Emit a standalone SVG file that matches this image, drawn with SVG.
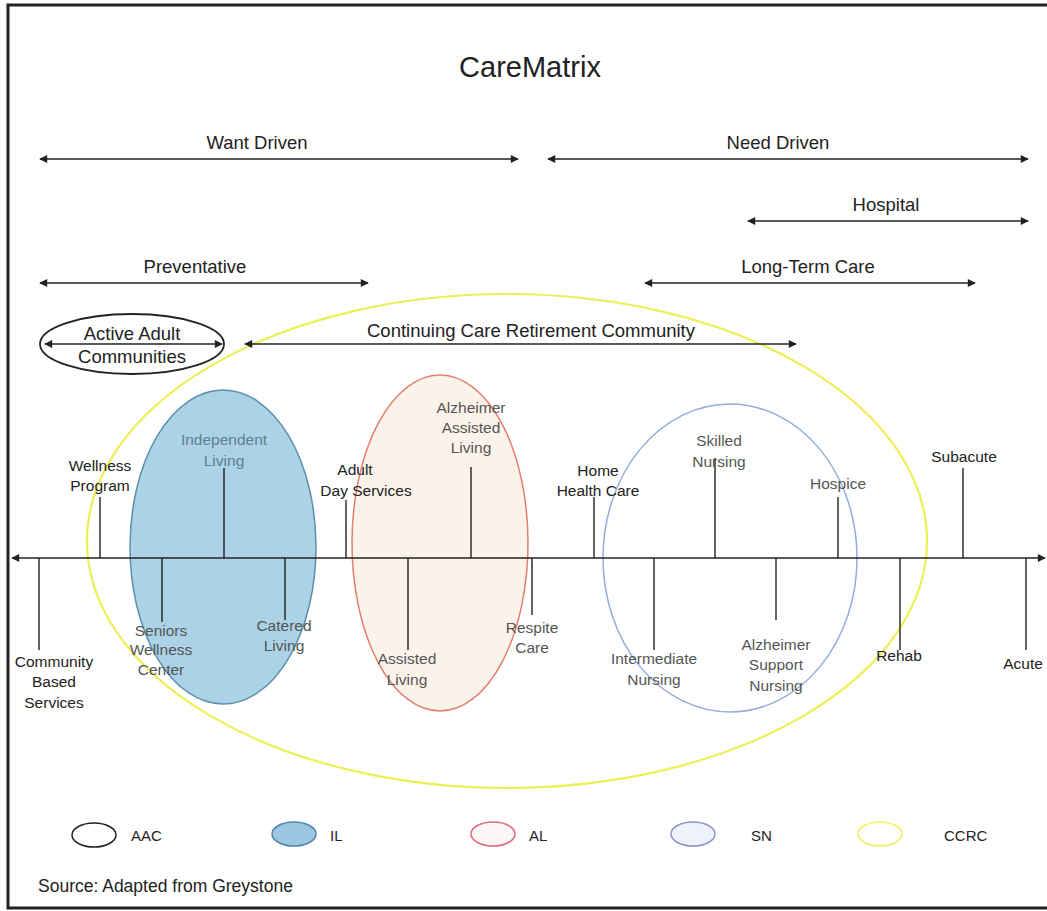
<svg xmlns="http://www.w3.org/2000/svg" width="1047" height="911" viewBox="0 0 1047 911">
<defs>
<marker id="ah" viewBox="0 0 10 10" refX="9" refY="5" markerWidth="10" markerHeight="8" markerUnits="userSpaceOnUse" orient="auto-start-reverse">
<path d="M0,0 L10,5 L0,10 Z" fill="#222"/>
</marker>
<style>
.t{font-family:"Liberation Sans",Arial,sans-serif;fill:#222;text-anchor:middle}
.h{font-size:18.5px}
.l{font-size:15.5px}
.il{fill:#5f7f93}
.al{fill:#555}
.arr{stroke:#222;stroke-width:1.6;fill:none;marker-start:url(#ah);marker-end:url(#ah)}
.tick{stroke:#222;stroke-width:1.4}
.lg{font-family:"Liberation Sans",Arial,sans-serif;font-size:15px;fill:#222}
</style>
</defs>
<rect width="1047" height="911" fill="#fff"/>
<path d="M1047,5 H8 V908 H1047" fill="none" stroke="#222" stroke-width="3"/>

<text class="t" x="530" y="77" font-size="29">CareMatrix</text>

<g id="il-region">
<ellipse cx="223" cy="547" rx="93" ry="157" fill="#acd2e5" stroke="#5b8fae" stroke-width="1.5"/>
</g>
<g id="al-region">
<ellipse cx="440" cy="543" rx="88" ry="168" fill="#fbf3ea" stroke="#e3806e" stroke-width="1.5"/>
</g>
<g id="sn-region">
<ellipse cx="730" cy="558" rx="127" ry="154" fill="none" stroke="#93aedb" stroke-width="1.5"/>
</g>
<g id="ccrc-region">
<ellipse cx="507" cy="541" rx="420" ry="247" fill="none" stroke="#eeee55" stroke-width="2.2"/>
</g>

<g id="aac-node">
<ellipse cx="132" cy="344" rx="92" ry="30" fill="none" stroke="#222" stroke-width="1.8"/>
<text class="t h" x="132" y="340">Active Adult</text>
<text class="t h" x="132" y="363">Communities</text>
</g>

<g id="connectors">
<line class="arr" x1="40" y1="159" x2="518" y2="159"/>
<line class="arr" x1="548" y1="159" x2="1028" y2="159"/>
<line class="arr" x1="748" y1="221" x2="1028" y2="221"/>
<line class="arr" x1="40" y1="283" x2="368" y2="283"/>
<line class="arr" x1="645" y1="283" x2="975" y2="283"/>
<line class="arr" x1="45" y1="344" x2="222" y2="344"/>
<line class="arr" x1="245" y1="344" x2="796" y2="344"/>
<line class="arr" x1="12" y1="558" x2="1045" y2="558"/>
<line class="tick" x1="100" y1="497" x2="100" y2="558"/>
<line class="tick" x1="224" y1="468" x2="224" y2="558"/>
<line class="tick" x1="346" y1="500" x2="346" y2="558"/>
<line class="tick" x1="471" y1="467" x2="471" y2="558"/>
<line class="tick" x1="594" y1="497" x2="594" y2="558"/>
<line class="tick" x1="715" y1="458" x2="715" y2="558"/>
<line class="tick" x1="838" y1="497" x2="838" y2="558"/>
<line class="tick" x1="963" y1="468" x2="963" y2="558"/>
<line class="tick" x1="39" y1="558" x2="39" y2="650"/>
<line class="tick" x1="162" y1="558" x2="162" y2="622"/>
<line class="tick" x1="285" y1="558" x2="285" y2="620"/>
<line class="tick" x1="408" y1="558" x2="408" y2="650"/>
<line class="tick" x1="532" y1="558" x2="532" y2="615"/>
<line class="tick" x1="654" y1="558" x2="654" y2="650"/>
<line class="tick" x1="776" y1="558" x2="776" y2="620"/>
<line class="tick" x1="900" y1="558" x2="900" y2="650"/>
<line class="tick" x1="1026" y1="558" x2="1026" y2="650"/>
</g>

<g id="want-driven"><text class="t h" x="257" y="149">Want Driven</text></g>
<g id="need-driven"><text class="t h" x="778" y="149">Need Driven</text></g>
<g id="hospital"><text class="t h" x="886" y="211">Hospital</text></g>
<g id="preventative"><text class="t h" x="195" y="273">Preventative</text></g>
<g id="long-term-care"><text class="t h" x="808" y="273">Long-Term Care</text></g>
<g id="ccrc-label"><text class="t h" x="531" y="337">Continuing Care Retirement Community</text></g>

<g id="wellness-program"><text class="t l" x="100" y="471">Wellness</text><text class="t l" x="100" y="491">Program</text></g>
<g id="independent-living"><text class="t l il" x="224" y="445">Independent</text><text class="t l il" x="224" y="466">Living</text></g>
<g id="adult-day-services"><text class="t l" x="355" y="475">Adult</text><text class="t l" x="366" y="496">Day Services</text></g>
<g id="alzheimer-assisted-living"><text class="t l al" x="471" y="413">Alzheimer</text><text class="t l al" x="471" y="433">Assisted</text><text class="t l al" x="471" y="453">Living</text></g>
<g id="home-health-care"><text class="t l" x="598" y="476">Home</text><text class="t l" x="598" y="496">Health Care</text></g>
<g id="skilled-nursing"><text class="t l al" x="719" y="446">Skilled</text><text class="t l al" x="719" y="467">Nursing</text></g>
<g id="hospice"><text class="t l al" x="838" y="489">Hospice</text></g>
<g id="subacute"><text class="t l" x="964" y="462">Subacute</text></g>

<g id="community-based-services"><text class="t l" x="54" y="667">Community</text><text class="t l" x="54" y="687">Based</text><text class="t l" x="54" y="708">Services</text></g>
<g id="seniors-wellness-center"><text class="t l al" x="161" y="636">Seniors</text><text class="t l al" x="161" y="655">Wellness</text><text class="t l al" x="161" y="675">Center</text></g>
<g id="catered-living"><text class="t l al" x="284" y="631">Catered</text><text class="t l al" x="284" y="651">Living</text></g>
<g id="assisted-living"><text class="t l al" x="407" y="664">Assisted</text><text class="t l al" x="407" y="685">Living</text></g>
<g id="respite-care"><text class="t l al" x="532" y="633">Respite</text><text class="t l al" x="532" y="653">Care</text></g>
<g id="intermediate-nursing"><text class="t l al" x="654" y="664">Intermediate</text><text class="t l al" x="654" y="685">Nursing</text></g>
<g id="alzheimer-support-nursing"><text class="t l al" x="776" y="650">Alzheimer</text><text class="t l al" x="776" y="670">Support</text><text class="t l al" x="776" y="691">Nursing</text></g>
<g id="rehab"><text class="t l" x="899" y="661">Rehab</text></g>
<g id="acute"><text class="t l" x="1023" y="669">Acute</text></g>

<g id="legend">
<ellipse cx="94" cy="835" rx="22" ry="12" fill="none" stroke="#222" stroke-width="1.5"/>
<text class="lg" x="131" y="841">AAC</text>
<ellipse cx="294" cy="834" rx="22" ry="12" fill="#9cc7e3" stroke="#4f86b0" stroke-width="1.5"/>
<text class="lg" x="330" y="841">IL</text>
<ellipse cx="493" cy="834" rx="22" ry="12" fill="#fdf6f6" stroke="#e06a7e" stroke-width="1.5"/>
<text class="lg" x="529" y="841">AL</text>
<ellipse cx="693" cy="834" rx="22" ry="12" fill="#f0f2fb" stroke="#8c95cc" stroke-width="1.5"/>
<text class="lg" x="751" y="841">SN</text>
<ellipse cx="880" cy="834" rx="22" ry="12" fill="none" stroke="#f0f060" stroke-width="1.5"/>
<text class="lg" x="944" y="841">CCRC</text>
</g>

<g id="source"><text font-family="Liberation Sans, Arial, sans-serif" font-size="17.5" fill="#222" x="38" y="892">Source: Adapted from Greystone</text></g>
</svg>
